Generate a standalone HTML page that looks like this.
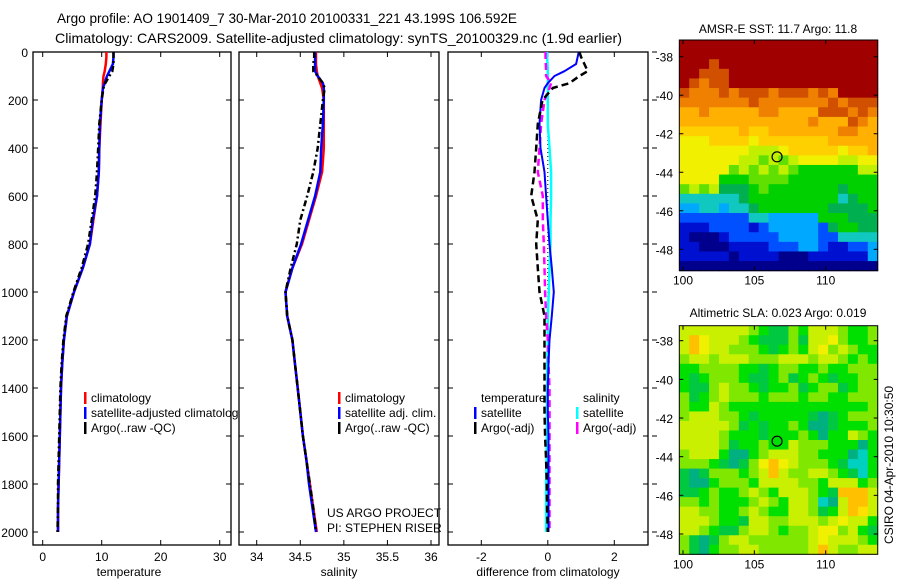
<!DOCTYPE html>
<html><head><meta charset="utf-8"><style>
body{margin:0;background:#fff;width:900px;height:580px;overflow:hidden}
svg{display:block;font-family:"Liberation Sans",sans-serif}
</style></head><body>
<svg id="fig" width="900" height="580" viewBox="0 0 900 580" xmlns="http://www.w3.org/2000/svg">
<text x="57" y="23" font-size="14" textLength="460" lengthAdjust="spacingAndGlyphs">Argo profile: AO 1901409_7 30-Mar-2010 20100331_221 43.199S 106.592E</text>
<text x="55" y="43" font-size="14" textLength="567" lengthAdjust="spacingAndGlyphs">Climatology: CARS2009. Satellite-adjusted climatology: synTS_20100329.nc (1.9d earlier)</text>
<defs>
<clipPath id="c1"><rect x="33" y="52" width="205" height="493"/></clipPath>
</defs>
<g id="g"></g>
</svg>
<script>
// ---- profile data ----
const depths=[0,20,50,80,100,130,150,200,300,400,500,600,700,800,900,1000,1100,1200,1300,1400,1500,1600,1700,1800,1900,2000];
const tempClim=[10.8,10.8,10.7,10.5,10.3,10.2,10.2,10.0,9.8,9.6,9.5,9.2,8.6,8.0,6.8,5.3,4.1,3.6,3.3,3.1,3.0,2.9,2.8,2.7,2.6,2.6];
const tempSat=[12.0,12.0,11.9,11.3,10.9,10.5,10.2,10.0,9.7,9.6,9.5,9.2,8.5,8.0,6.8,5.3,4.1,3.6,3.3,3.1,3.0,2.9,2.8,2.7,2.6,2.6];
const tempArgo=[12.0,12.0,12.0,11.8,11.3,10.6,10.3,10.0,9.6,9.4,9.2,8.9,8.3,7.7,6.6,5.2,4.0,3.5,3.2,3.0,2.9,2.8,2.7,2.6,2.6,2.5];
const salClim=[34.68,34.68,34.68,34.69,34.70,34.73,34.75,34.77,34.77,34.77,34.75,34.68,34.60,34.52,34.41,34.33,34.35,34.41,34.44,34.47,34.50,34.53,34.57,34.61,34.65,34.69];
const salSat=[34.67,34.67,34.67,34.67,34.70,34.76,34.77,34.77,34.76,34.74,34.73,34.67,34.59,34.51,34.41,34.33,34.35,34.41,34.44,34.47,34.50,34.53,34.57,34.60,34.64,34.68];
const salArgo=[34.66,34.66,34.65,34.65,34.70,34.76,34.78,34.76,34.73,34.70,34.65,34.58,34.50,34.46,34.39,34.33,34.35,34.41,34.44,34.47,34.50,34.53,34.57,34.61,34.65,34.68];
const dTempSat=[0.93,0.9,0.85,0.5,0.2,0.0,-0.1,-0.2,-0.25,-0.22,-0.1,-0.05,0.0,0.05,0.12,0.18,0.12,0.05,0.02,0.0,0.0,0.02,0.02,0.02,0.02,0.02];
const dTempArgo=[0.95,1.0,1.1,1.2,0.95,0.65,0.15,-0.16,-0.3,-0.35,-0.4,-0.5,-0.3,-0.35,-0.3,-0.25,-0.1,-0.1,-0.1,-0.1,-0.1,-0.08,-0.05,-0.03,-0.02,0.0];
const dSalSat=[-0.02,-0.02,-0.01,0.0,0.0,0.0,0.0,0.0,0.0,0.05,0.1,0.1,0.08,0.08,0.05,0.03,0.0,0.0,-0.02,-0.02,-0.03,-0.03,-0.04,-0.05,-0.05,-0.05];
const dSalArgo=[-0.07,-0.07,-0.06,-0.05,-0.05,0.1,0.05,-0.1,-0.2,-0.25,-0.3,-0.15,-0.15,-0.12,-0.1,-0.08,-0.05,0.0,0.02,0.05,0.05,0.05,0.05,0.05,0.05,0.05];
const depthTicks=[0,200,400,600,800,1000,1200,1400,1600,1800,2000];
const tempTicks=[0,10,20,30];
const salTicks=[34,34.5,35,35.5,36];
const diffTicks=[-2,0,2];
// ---- map data ----
const latTicks=[-38,-40,-42,-44,-46,-48];
const lonTicks=[100,105,110];
const floatLon=106.592, floatLat=-43.199;
const sstRows=["eeeeeeeeeeeeeeeeeeee","eeeeeeeeeeeeeeeeeeee","eeedeeeeeeeeeeeeeeee","eedddeeeeeeeeeeeeeee","edcddeeeeeeeeeeeeeee","dcccdcdddcdddcdceeee","cccccccdcccccccdcddd","bbcbbbbbccbbbbdddcdc","bbbbbbbbbbbbbcbbbdcb","aaaaaabaabbbbbbbccbb","999aaaa9aaaaaaabbbbb","99999998889aaaaa9aab","99999988787899998899","99999787878766666688","99996667777666666666","78785556766666665666","44444456666666664566","33443445666666655556","22222224433333666555","11122221233333256655","10001222223333224444","11000111122233211223","11111011110001111113","00000000000000000000"];
const slaRows=["YYYYYYYlgGGlgYYYlggl","YoyYYYlgGGGlGYYylggl","YoyYYlllgGglgYylYlgg","lYYlYYYlllYYYlYYlglg","ggllllggGgllgglgglll","gGglllgGGglGglgGggll","gGGlYllgGgglGgllGgll","lGglYlllglllgllgglll","lggYlggggggggggggggl","lYYYllgGgggggGtGglll","YYYYYlGgGgglgttGgggl","YYYYlgggGggglgtggYlg","YYYYlGgglggYlllgggtg","lYYYgttglYYYllgggtcg","lllgGtGlyoyYlllgGccg","GtGlllglYoYllYYlgGcg","GttglllgYYYYllgYYYgl","GGglgglYlgYYYlgGoooY","llglggglYlgYYlctYooY","YYllgglYlggYYlGgYopY","YYYlggGYYllYYYlYyYYg","YYlgGGlYYlgllYyylYgG","lGtGlYYllllllYyYYYlg","lGtgllYYlllllYoYllYY"];
const sstPal={"0":"#00008c","1":"#0010d0","2":"#0050ff","3":"#00a8ff","4":"#10c8c0","5":"#00b050","6":"#00d000","7":"#60e000","8":"#c0f000","9":"#f0f000","a":"#ffd000","b":"#ffb000","c":"#f08000","d":"#d05000","e":"#a00000"};
const slaPal={"y":"#f0f000","Y":"#c8f000","l":"#80e800","g":"#00e000","G":"#00c840","t":"#00b080","c":"#00d0c0","o":"#ffc000","p":"#ffe000"};

const NS="http://www.w3.org/2000/svg";
const root=document.getElementById('g');
function mk(tag,attrs,parent,text){const e=document.createElementNS(NS,tag);for(const k in attrs)e.setAttribute(k,attrs[k]);if(text!==undefined)e.textContent=text;(parent||root).appendChild(e);return e;}
const Y0=52,YSC=0.24;
function yD(d){return Y0+d*YSC;}
function lin(d0,d1,p0,p1){return v=>p0+(v-d0)*(p1-p0)/(d1-d0);}
const xT=lin(0,30,42.7,219.7), xS=lin(34,36,256.7,431), xD=lin(-2,2,481.3,614.3);

function panel(name,x0,x1,sx,ticks,fmt,xlabel,labelX){
  const g=mk('g',{},root);
  
  
  const fr=mk('rect',{x:x0,y:Y0,width:x1-x0,height:545-Y0,fill:'none',stroke:'#000','stroke-width':1.3},g);
  
  
  ticks.forEach(t=>{const x=sx(t);
    mk('line',{x1:x,x2:x,y1:Y0,y2:Y0+5,stroke:'#000'},g);
    mk('line',{x1:x,x2:x,y1:545,y2:540,stroke:'#000'},g);
    const tl=mk('text',{x:x,y:561,'font-size':12,'text-anchor':'middle'},g,fmt(t));
    
    
  });
  depthTicks.forEach(d=>{const y=yD(d);
    mk('line',{x1:x0,x2:x0+5,y1:y,y2:y,stroke:'#000'},g);
    mk('line',{x1:x1,x2:x1-5,y1:y,y2:y,stroke:'#000'},g);
  });
  const xl=mk('text',{x:labelX,y:576,'font-size':12,'text-anchor':'middle'},g,xlabel);
  
  
  return g;
}
const p1=panel('temperature-panel',33,231,xT,tempTicks,String,'temperature',129);
const p2=panel('salinity-panel',239,439,xS,salTicks,String,'salinity',339);
const p3=panel('difference-panel',448,648,xD,diffTicks,String,'difference from climatology',548);
depthTicks.forEach(d=>{
  const t=mk('text',{x:28,y:yD(d)+5,'font-size':12,'text-anchor':'end'},root,String(d));
  
  
  mk('line',{x1:652,x2:657,y1:yD(d),y2:yD(d),stroke:'#000'});
});
// zero dotted line
mk('line',{x1:xD(0),x2:xD(0),y1:yD(200),y2:yD(2000),stroke:'#000','stroke-dasharray':'1 3'},p3);

function series(g,name,vals,sx,color,dash,w){
  const pts=vals.map((v,i)=>sx(v).toFixed(1)+','+yD(depths[i]).toFixed(1)).join(' ');
  const a={points:pts,fill:'none',stroke:color,'stroke-width':w||2.5,'stroke-linejoin':'round'};
  if(dash)a['stroke-dasharray']=dash;
  const p=mk('polyline',a,g);
  
  
}
series(p1,'temp-climatology-line',tempClim,xT,'#f00');
series(p1,'temp-satellite-line',tempSat,xT,'#00f');
series(p1,'temp-argo-line',tempArgo,xT,'#000','6 3 2 3');
series(p2,'sal-climatology-line',salClim,xS,'#f00');
series(p2,'sal-satellite-line',salSat,xS,'#00f');
series(p2,'sal-argo-line',salArgo,xS,'#000','6 3 2 3');
series(p3,'dsal-satellite-line',dSalSat,xD,'#00ffff');
series(p3,'dsal-argo-line',dSalArgo,xD,'#ff00ff','7 4');
series(p3,'dtemp-satellite-line',dTempSat,xD,'#00f',null,2);
series(p3,'dtemp-argo-line',dTempArgo,xD,'#000','7 4');

function legend(g,x,y,color,label,clip){
  const e=mk('g',clip?{'clip-path':'url(#c1)'}:{},g);
  
  
  if(color)mk('rect',{x:x-7,y:y-10,width:2.5,height:12,fill:color},e);
  mk('text',{x:x,y:y,'font-size':12},e,label);
}
legend(p1,91,402,'#f00','climatology');
legend(p1,91,417,'#00f','satellite-adjusted climatology',true);
legend(p1,91,432,'#000','Argo(..raw -QC)');
legend(p2,345,402,'#f00','climatology');
legend(p2,345,417,'#00f','satellite adj. clim.');
legend(p2,345,432,'#000','Argo(..raw -QC)');
legend(p3,481,402,null,'temperature');
legend(p3,481,417,'#00f','satellite');
legend(p3,481,432,'#000','Argo(-adj)');
legend(p3,583,402,null,'salinity');
legend(p3,583,417,'#00ffff','satellite');
legend(p3,583,432,'#ff00ff','Argo(-adj)');
const c1=mk('text',{x:327,y:517,'font-size':12},p2,'US ARGO PROJECT');


const c2=mk('text',{x:327,y:532,'font-size':12},p2,'PI: STEPHEN RISER');



// ---- maps ----
function map(name,rows,pal,top,bot,lat38,lat48,title,titleY){
  const g=mk('g',{},root);
  
  
  const L=679.3,R=877.7;
  const mx=lin(100,110,683,825.7), my=lin(-38,-48,lat38,lat48);
  const nr=rows.length,nc=rows[0].length,cw=(R-L)/nc,ch=(bot-top)/nr;
  rows.forEach((r,i)=>{for(let j=0;j<nc;j++){
    const c=mk('rect',{x:(L+j*cw).toFixed(2),y:(top+i*ch).toFixed(2),width:(cw+0.5).toFixed(2),height:(ch+0.5).toFixed(2),fill:pal[r[j]]},g);
    
    
  }});
  mk('rect',{x:L,y:top,width:R-L,height:bot-top,fill:'none',stroke:'#000'},g);
  latTicks.forEach(t=>{const y=my(t);
    mk('line',{x1:L,x2:L+4,y1:y,y2:y,stroke:'#000'},g);
    mk('line',{x1:R,x2:R-4,y1:y,y2:y,stroke:'#000'},g);
    const tl=mk('text',{x:673,y:y+5,'font-size':12,'text-anchor':'end'},g,String(t));
    
    
  });
  lonTicks.forEach(t=>{const x=mx(t);
    mk('line',{x1:x,x2:x,y1:bot,y2:bot-4,stroke:'#000'},g);
    mk('line',{x1:x,x2:x,y1:top,y2:top+4,stroke:'#000'},g);
    const tl=mk('text',{x:x,y:bot+14,'font-size':12,'text-anchor':'middle'},g,String(t));
    
    
  });
  const ci=mk('circle',{cx:mx(floatLon),cy:my(floatLat),r:5,fill:'none',stroke:'#000','stroke-width':1.2},g);
  
  
  const tt=mk('text',{x:778,y:titleY,'font-size':12,'text-anchor':'middle'},g,title);
  
  
}
map('sst-map',sstRows,sstPal,40,270.7,56.7,249.3,'AMSR-E SST: 11.7 Argo: 11.8',33);
map('sla-map',slaRows,slaPal,325.7,554.3,340.7,534,'Altimetric SLA: 0.023 Argo: 0.019',317);
const st=mk('text',{x:0,y:0,'font-size':12,'text-anchor':'middle',transform:'translate(893,465) rotate(-90)'},root,'CSIRO 04-Apr-2010 10:30:50');


</script>
</body></html>
